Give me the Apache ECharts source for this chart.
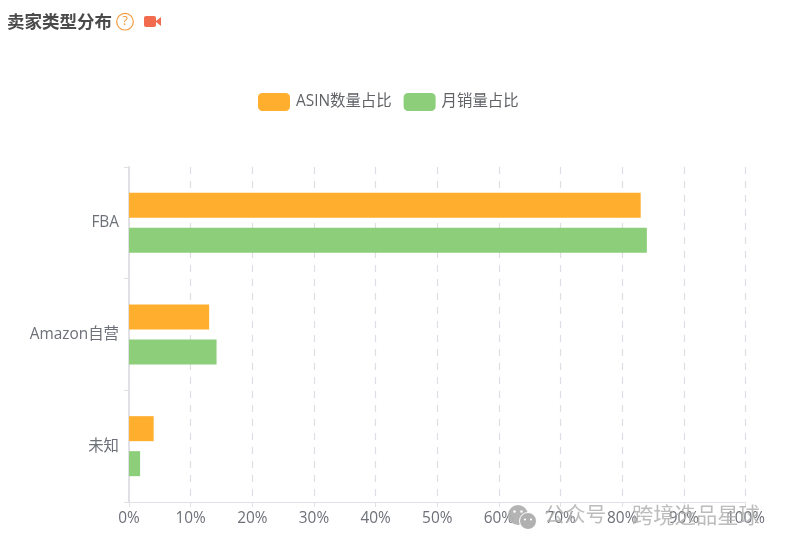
<!DOCTYPE html>
<html><head><meta charset="utf-8">
<style>html,body{margin:0;padding:0;background:#fff}#c{width:785px;height:548px}</style>
<script src="https://cdn.jsdelivr.net/npm/echarts@6/dist/echarts.min.js"></script>
</head><body><div id="c"></div>
<script>
const categories = ['FBA', 'Amazon自营', '未知'];
const seriesNames = ['ASIN数量占比', '月销量占比'];
const asinShare = [83, 13, 4];
const salesShare = [84, 14.2, 1.8];
const tickMax = 100, tickStep = 10;
const F = '"Open Sans","Noto Sans CJK SC","Noto Sans",sans-serif';
const chart = echarts.init(document.getElementById('c'), null, {renderer:'canvas'});
const wmColor = '#b0b0b0';
chart.setOption({
  animation:false,
  backgroundColor:'#fff',
  textStyle:{fontFamily:F},
  legend:{
    left:253, top:88, itemWidth:32, itemHeight:18, itemGap:12,
    icon:'roundRect',
    textStyle:{color:'#606266',fontSize:15.4,fontFamily:F,padding:[0,0,3,1]},
    data:seriesNames
  },
  grid:{left:129,right:39.5,top:167,bottom:46,containLabel:false},
  xAxis:{
    type:'value',min:0,max:tickMax,interval:tickStep,
    axisLine:{show:true,lineStyle:{color:'#e0e0e6'}},
    axisTick:{show:true,length:5,lineStyle:{color:'#e0e0e6'}},
    axisLabel:{formatter:'{value}%',color:'#6e7079',fontSize:15.4,margin:9,fontFamily:F},
    splitLine:{show:true,lineStyle:{type:[7,7],width:1.2,color:'#dedee6'}}
  },
  yAxis:{
    type:'category',inverse:true,data:categories,
    axisLine:{show:true,lineStyle:{color:'#e0e0e6',width:2}},
    axisTick:{show:true,length:5,lineStyle:{color:'#e0e0e6'}},
    axisLabel:{color:'#6e7079',fontSize:15.4,margin:10,fontFamily:F,padding:[0,0,4,0]}
  },
  series:[
    {name:seriesNames[0],type:'bar',data:asinShare,barWidth:25,barGap:'40%',itemStyle:{color:'#ffae2e'}},
    {name:seriesNames[1],type:'bar',data:salesShare,barWidth:25,itemStyle:{color:'#8cce7a'}}
  ],
  graphic:[
    {type:'text',left:7,top:14,style:{text:'卖家类型分布',font:'bold 17.5px '+F,fill:'#4a4a4a'}},
    {type:'circle',shape:{cx:125,cy:21.7,r:8.3},style:{fill:'none',stroke:'#f39a3c',lineWidth:1.2}},
    {type:'text',x:125,y:21.7,style:{text:'?',font:'13px '+F,fill:'#f39a3c',align:'center',verticalAlign:'middle'}},
    {type:'rect',shape:{x:144,y:16,width:12,height:11,r:2},style:{fill:'#f26b4e'}},
    {type:'polygon',shape:{points:[[156,21],[161,17],[161,26],[156,22]]},style:{fill:'#f26b4e'}},
    {type:'circle',z:10,shape:{cx:518,cy:515,r:10},style:{fill:wmColor,opacity:.95}},
    {type:'circle',z:11,shape:{cx:514.5,cy:511.5,r:1.3},style:{fill:'#fff'}},
    {type:'circle',z:11,shape:{cx:521.5,cy:511.5,r:1.3},style:{fill:'#fff'}},
    {type:'circle',z:12,shape:{cx:528,cy:521,r:8.5},style:{fill:wmColor,stroke:'#fff',lineWidth:1}},
    {type:'circle',z:13,shape:{cx:525,cy:519.5,r:1.1},style:{fill:'#fff'}},
    {type:'circle',z:13,shape:{cx:531,cy:519.5,r:1.1},style:{fill:'#fff'}},
    {type:'text',z:10,left:544,top:506,style:{text:'公众号',font:'20.7px '+F,fill:wmColor,opacity:.85}},
    {type:'text',z:10,left:632,top:506,style:{text:'跨境选品星球',font:'21.3px '+F,fill:wmColor,opacity:.85}}
  ]
});
</script></body></html>
